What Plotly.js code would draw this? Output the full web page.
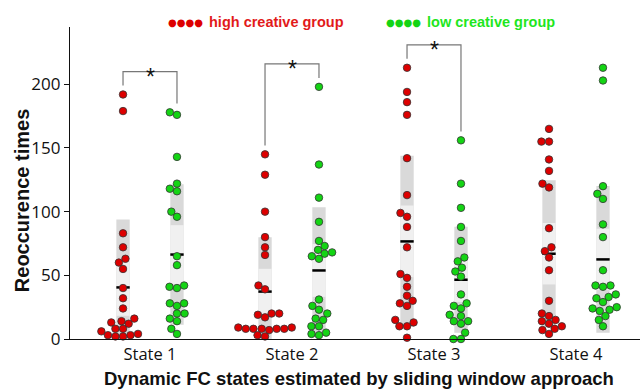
<!DOCTYPE html>
<html>
<head>
<meta charset="utf-8">
<script src="https://cdn.plot.ly/plotly-3.0.1.min.js"></script>
<style>html,body{margin:0;padding:0;background:#fff;}#chart{width:641px;height:391px;}</style>
</head>
<body>
<div id="chart"></div>
<script>
// ---- data ----
const categories = ['State 1', 'State 2', 'State 3', 'State 4'];
const highS1 = [192,179,83,72,63,60,55,40,32,24,16,14,13,12,8,8,6,4,3,2,3,2];
const highS2 = [145,129,100,80,72,66,42,39,20,20,19,17,9,9,8,8,8,8,8,7,3,2];
const highS3 = [213,194,186,176,142,113,99,96,88,72,51,48,41,34,30,28,26,15,13,10,10,1];
const highS4 = [165,155,155,141,132,122,119,87,72,69,64,54,30,20,18,15,14,12,10,8,7,4];
const lowS1 = [178,176,143,122,118,116,100,96,65,58,42,41,40,28,28,26,20,20,16,14,8,4];
const lowS2 = [198,137,111,92,77,73,70,68,67,65,63,31,26,23,20,16,15,10,10,5,4,3];
const lowS3 = [156,122,103,88,77,64,61,56,53,49,35,28,26,24,19,18,14,14,12,5,0,0];
const lowS4 = [213,203,120,114,110,90,80,54,42,42,41,35,33,32,29,25,24,23,22,18,15,10];
const significant = [true, true, true, false];
const groupNames = ['high creative group', 'low creative group'];
const yTicks = [0, 50, 100, 150, 200];

// ---- layout constants ----
const W = 641, H = 391;
const margin = {l: 70, r: 1, t: 27, b: 52, pad: 0};
const xRange = [-0.5634, 3.4507];
const yRange = [0, 245];
const pxPerX = (W - margin.l - margin.r) / (xRange[1] - xRange[0]);
const pxPerY = (H - margin.t - margin.b) / (yRange[1] - yRange[0]);
const SIDE = 0.19, BOXW = 0.094;
const RED = '#dd0000', GREEN = '#14d414';

const groups = [
  {name: groupNames[0], data: [highS1, highS2, highS3, highS4], side: -1, color: RED},
  {name: groupNames[1], data: [lowS1, lowS2, lowS3, lowS4], side: 1, color: GREEN}
];

function stats(v) {
  const n = v.length;
  const m = v.reduce((a, b) => a + b, 0) / n;
  const sd = Math.sqrt(v.reduce((a, b) => a + (b - m) * (b - m), 0) / (n - 1));
  const ci = 1.96 * sd / Math.sqrt(n);
  return {m, sd, ci};
}

// simple beeswarm, offsets in pixels
function swarm(vals, D) {
  const idx = vals.map((v, i) => i).sort((a, b) => vals[a] - vals[b]);
  const placed = [], off = new Array(vals.length).fill(0);
  for (const i of idx) {
    const y = vals[i] * pxPerY;
    const iv = [];
    for (const p of placed) {
      const dy = Math.abs(p.y - y);
      if (dy < D) { const dx = Math.sqrt(D * D - dy * dy); iv.push([p.x - dx, p.x + dx]); }
    }
    const cands = [0];
    iv.forEach(r => cands.push(r[0], r[1]));
    cands.sort((a, b) => Math.abs(a) - Math.abs(b) || a - b);
    let x = 0;
    for (const c of cands) {
      if (iv.every(r => c <= r[0] + 1e-9 || c >= r[1] - 1e-9)) { x = c; break; }
    }
    placed.push({x, y});
    off[i] = x;
  }
  return off;
}

const traces = [];
const meanLines = {x: [], y: []};
const pointTraces = [];
groups.forEach(g => {
  const st = g.data.map(stats);
  const xs = categories.map((c, k) => k + g.side * SIDE);
  traces.push({type: 'bar', x: xs, base: st.map(s => s.m - s.sd), y: st.map(s => 2 * s.sd),
    width: BOXW, marker: {color: '#d9d9d9', line: {width: 0}}, hoverinfo: 'skip', showlegend: false});
  traces.push({type: 'bar', x: xs, base: st.map(s => s.m - s.ci), y: st.map(s => 2 * s.ci),
    width: BOXW, marker: {color: '#f0f0f0', line: {width: 0}}, hoverinfo: 'skip', showlegend: false});
  st.forEach((s, k) => {
    meanLines.x.push(xs[k] - BOXW / 2, xs[k] + BOXW / 2, null);
    meanLines.y.push(s.m, s.m, null);
  });
  const px = [], py = [];
  g.data.forEach((vals, k) => {
    const off = swarm(vals, 7.6);
    vals.forEach((v, i) => { px.push(xs[k] + off[i] / pxPerX); py.push(v); });
  });
  pointTraces.push({type: 'scatter', mode: 'markers', x: px, y: py, name: g.name, cliponaxis: false,
    marker: {size: 7.5, color: g.color, line: {color: '#333', width: 0.8}}, hoverinfo: 'skip', showlegend: false});
});
traces.push({type: 'scatter', mode: 'lines', x: meanLines.x, y: meanLines.y,
  line: {color: '#000', width: 2.5}, hoverinfo: 'skip', showlegend: false, cliponaxis: false});
pointTraces.forEach(t => traces.push(t));

// significance brackets
const shapes = [];
const annotations = [];
significant.forEach((s, k) => {
  if (!s) return;
  const mh = Math.max(...groups[0].data[k]);
  const ml = Math.max(...groups[1].data[k]);
  const top = Math.max(mh, ml) + 18;
  const xl = k - SIDE, xr = k + SIDE;
  shapes.push({type: 'path', xref: 'x', yref: 'y',
    path: `M ${xl},${mh + 7} L ${xl},${top} L ${xr},${top} L ${xr},${ml + 7}`,
    line: {color: '#777', width: 1.2}});
  annotations.push({x: k, y: top, xref: 'x', yref: 'y', text: '*', showarrow: false,
    font: {family: 'Liberation Sans', size: 23, color: '#111'}, yanchor: 'middle', yshift: -5});
});

// legend (drawn as text)
const legendY = 1.016;
annotations.push(
  {xref: 'paper', yref: 'paper', x: (166 - 70) / 570, y: legendY, xanchor: 'left', yanchor: 'middle', showarrow: false,
   text: '●●●●', font: {family: 'DejaVu Sans', size: 10, color: RED}},
  {xref: 'paper', yref: 'paper', x: (207 - 70) / 570, y: legendY, xanchor: 'left', yanchor: 'middle', showarrow: false,
   text: '<b>' + groupNames[0] + '</b>', font: {family: 'Liberation Sans', size: 14.5, color: '#e21a1a'}},
  {xref: 'paper', yref: 'paper', x: (384 - 70) / 570, y: legendY, xanchor: 'left', yanchor: 'middle', showarrow: false,
   text: '●●●●', font: {family: 'DejaVu Sans', size: 10, color: GREEN}},
  {xref: 'paper', yref: 'paper', x: (425 - 70) / 570, y: legendY, xanchor: 'left', yanchor: 'middle', showarrow: false,
   text: '<b>' + groupNames[1] + '</b>', font: {family: 'Liberation Sans', size: 14.5, color: '#1ee61e'}},
  {xref: 'paper', yref: 'paper', x: (22 - 70) / 570, y: (338.7 - 201) / 311.7, textangle: -90, showarrow: false,
   xanchor: 'center', yanchor: 'middle',
   text: '<b>Reoccurence times</b>', font: {family: 'Liberation Sans', size: 20, color: '#111'}},
  {xref: 'paper', yref: 'paper', x: (359 - 70) / 570, y: (338.7 - 378.5) / 311.7, showarrow: false,
   xanchor: 'center', yanchor: 'middle',
   text: '<b>Dynamic FC states estimated by sliding window approach</b>', font: {family: 'Liberation Sans', size: 18.5, color: '#111'}}
);

const layout = {
  width: W, height: H, margin: margin,
  paper_bgcolor: '#fff', plot_bgcolor: '#fff',
  barmode: 'overlay', showlegend: false,
  xaxis: {range: xRange, tickvals: [0, 1, 2, 3], ticktext: categories, ticks: '', showgrid: false, zeroline: false,
    showline: true, linecolor: '#111', linewidth: 1.2, tickfont: {family: 'Open Sans', size: 16.5, color: '#111'}, fixedrange: true},
  yaxis: {range: yRange, tickvals: yTicks, ticks: 'outside', ticklen: 5, tickwidth: 1, tickcolor: '#111', showgrid: false, zeroline: false,
    showline: true, linecolor: '#111', linewidth: 1.2, tickfont: {family: 'Open Sans', size: 17, color: '#111'}, fixedrange: true},
  shapes: shapes,
  annotations: annotations
};

Plotly.newPlot('chart', traces, layout, {displayModeBar: false, staticPlot: true});
</script>
</body>
</html>
